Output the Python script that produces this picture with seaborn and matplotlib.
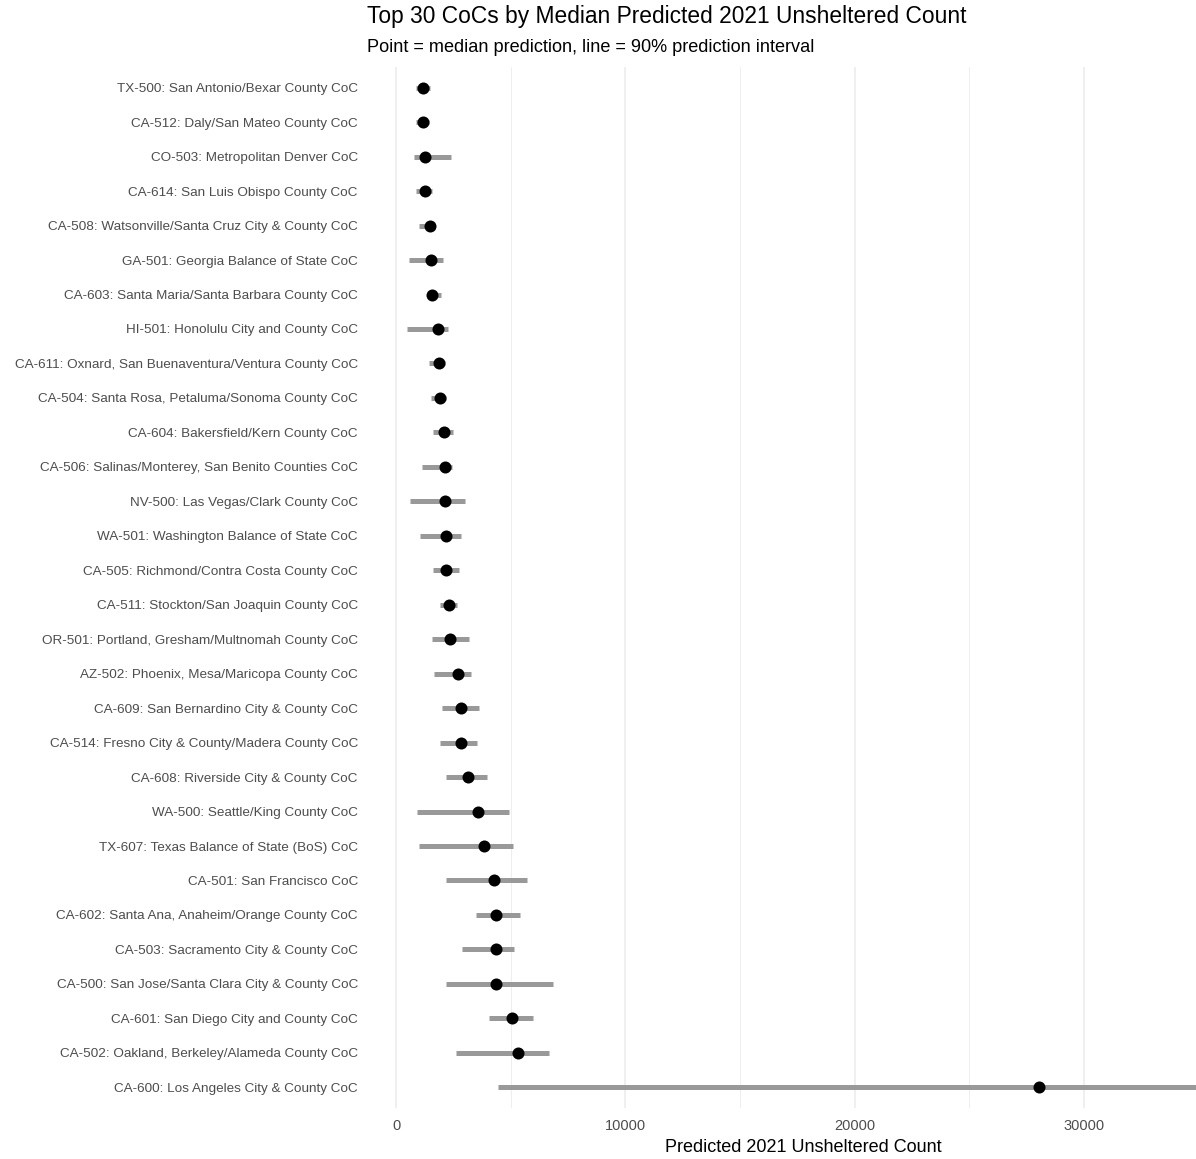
import numpy as np
import matplotlib
matplotlib.use('Agg')
import matplotlib.pyplot as plt
import seaborn as sns

# CoCs ordered top to bottom
cocs = [
    'TX-500: San Antonio/Bexar County CoC',
    'CA-512: Daly/San Mateo County CoC',
    'CO-503: Metropolitan Denver CoC',
    'CA-614: San Luis Obispo County CoC',
    'CA-508: Watsonville/Santa Cruz City & County CoC',
    'GA-501: Georgia Balance of State CoC',
    'CA-603: Santa Maria/Santa Barbara County CoC',
    'HI-501: Honolulu City and County CoC',
    'CA-611: Oxnard, San Buenaventura/Ventura County CoC',
    'CA-504: Santa Rosa, Petaluma/Sonoma County CoC',
    'CA-604: Bakersfield/Kern County CoC',
    'CA-506: Salinas/Monterey, San Benito Counties CoC',
    'NV-500: Las Vegas/Clark County CoC',
    'WA-501: Washington Balance of State CoC',
    'CA-505: Richmond/Contra Costa County CoC',
    'CA-511: Stockton/San Joaquin County CoC',
    'OR-501: Portland, Gresham/Multnomah County CoC',
    'AZ-502: Phoenix, Mesa/Maricopa County CoC',
    'CA-609: San Bernardino City & County CoC',
    'CA-514: Fresno City & County/Madera County CoC',
    'CA-608: Riverside City & County CoC',
    'WA-500: Seattle/King County CoC',
    'TX-607: Texas Balance of State (BoS) CoC',
    'CA-501: San Francisco CoC',
    'CA-602: Santa Ana, Anaheim/Orange County CoC',
    'CA-503: Sacramento City & County CoC',
    'CA-500: San Jose/Santa Clara City & County CoC',
    'CA-601: San Diego City and County CoC',
    'CA-502: Oakland, Berkeley/Alameda County CoC',
    'CA-600: Los Angeles City & County CoC',
]
median = [1190, 1190, 1265, 1265, 1480, 1530, 1585, 1815, 1860, 1920,
          2080, 2150, 2140, 2195, 2195, 2300, 2355, 2690, 2850, 2850,
          3125, 3560, 3850, 4290, 4380, 4380, 4380, 5060, 5320, 28030]
lower = [870, 870, 800, 860, 1020, 580, 1340, 463, 1455, 1515,
         1630, 1120, 625, 1060, 1615, 1905, 1570, 1670, 2005, 1905,
         2180, 915, 1020, 2180, 3490, 2890, 2165, 4040, 2620, 4430]
upper = [1480, 1450, 2385, 1555, 1700, 2065, 1950, 2280, 2140, 2180,
         2500, 2430, 3010, 2835, 2735, 2675, 3170, 3270, 3605, 3545,
         3985, 4930, 5090, 5700, 5420, 5145, 6850, 5960, 6690, 35036]

ypos = np.arange(len(cocs))

sns.set_style('white')
plt.rcParams['font.family'] = ['Liberation Sans', 'DejaVu Sans']

fig = plt.figure(figsize=(11.96, 11.59), dpi=100)
# panel runs past the right edge, like the cropped original
ax = fig.add_axes([367 / 1196, 1 - 1108 / 1159, 872 / 1196, (1108 - 67) / 1159])

ax.hlines(ypos, lower, upper, color='#999999', linewidth=3.6, zorder=2)
sns.scatterplot(x=median, y=ypos, color='black', s=75, edgecolor='black',
                linewidth=0, ax=ax, zorder=3)

ax.set_xlim(-1265, 36765)
ax.set_ylim(len(cocs) - 0.4, -0.6)
ax.set_yticks(ypos)
ax.set_yticklabels(cocs, fontsize=9.7, color='#4D4D4D')
ax.set_xticks([0, 10000, 20000, 30000])
ax.set_xticklabels(['0', '10000', '20000', '30000'], fontsize=10.5, color='#4D4D4D')
ax.set_xticks([5000, 15000, 25000, 35000], minor=True)
ax.grid(axis='x', which='major', color='#EBEBEB', linewidth=1.1)
ax.grid(axis='x', which='minor', color='#EBEBEB', linewidth=0.6)
ax.grid(axis='y', visible=False)
ax.set_axisbelow(True)
ax.tick_params(axis='both', which='both', length=0, pad=8)
ax.tick_params(axis='y', pad=6.6)
for s in ax.spines.values():
    s.set_visible(False)
ax.set_xlabel('Predicted 2021 Unsheltered Count', fontsize=13, labelpad=4, color='black')
ax.set_ylabel('')

fig.text(367 / 1196, 1 - 17 / 1159, 'Top 30 CoCs by Median Predicted 2021 Unsheltered Count',
         fontsize=16.4, va='center', ha='left', color='black')
fig.text(367 / 1196, 1 - 47 / 1159, 'Point = median prediction, line = 90% prediction interval',
         fontsize=13.1, va='center', ha='left', color='black')

fig.savefig('out.png', dpi=100)
